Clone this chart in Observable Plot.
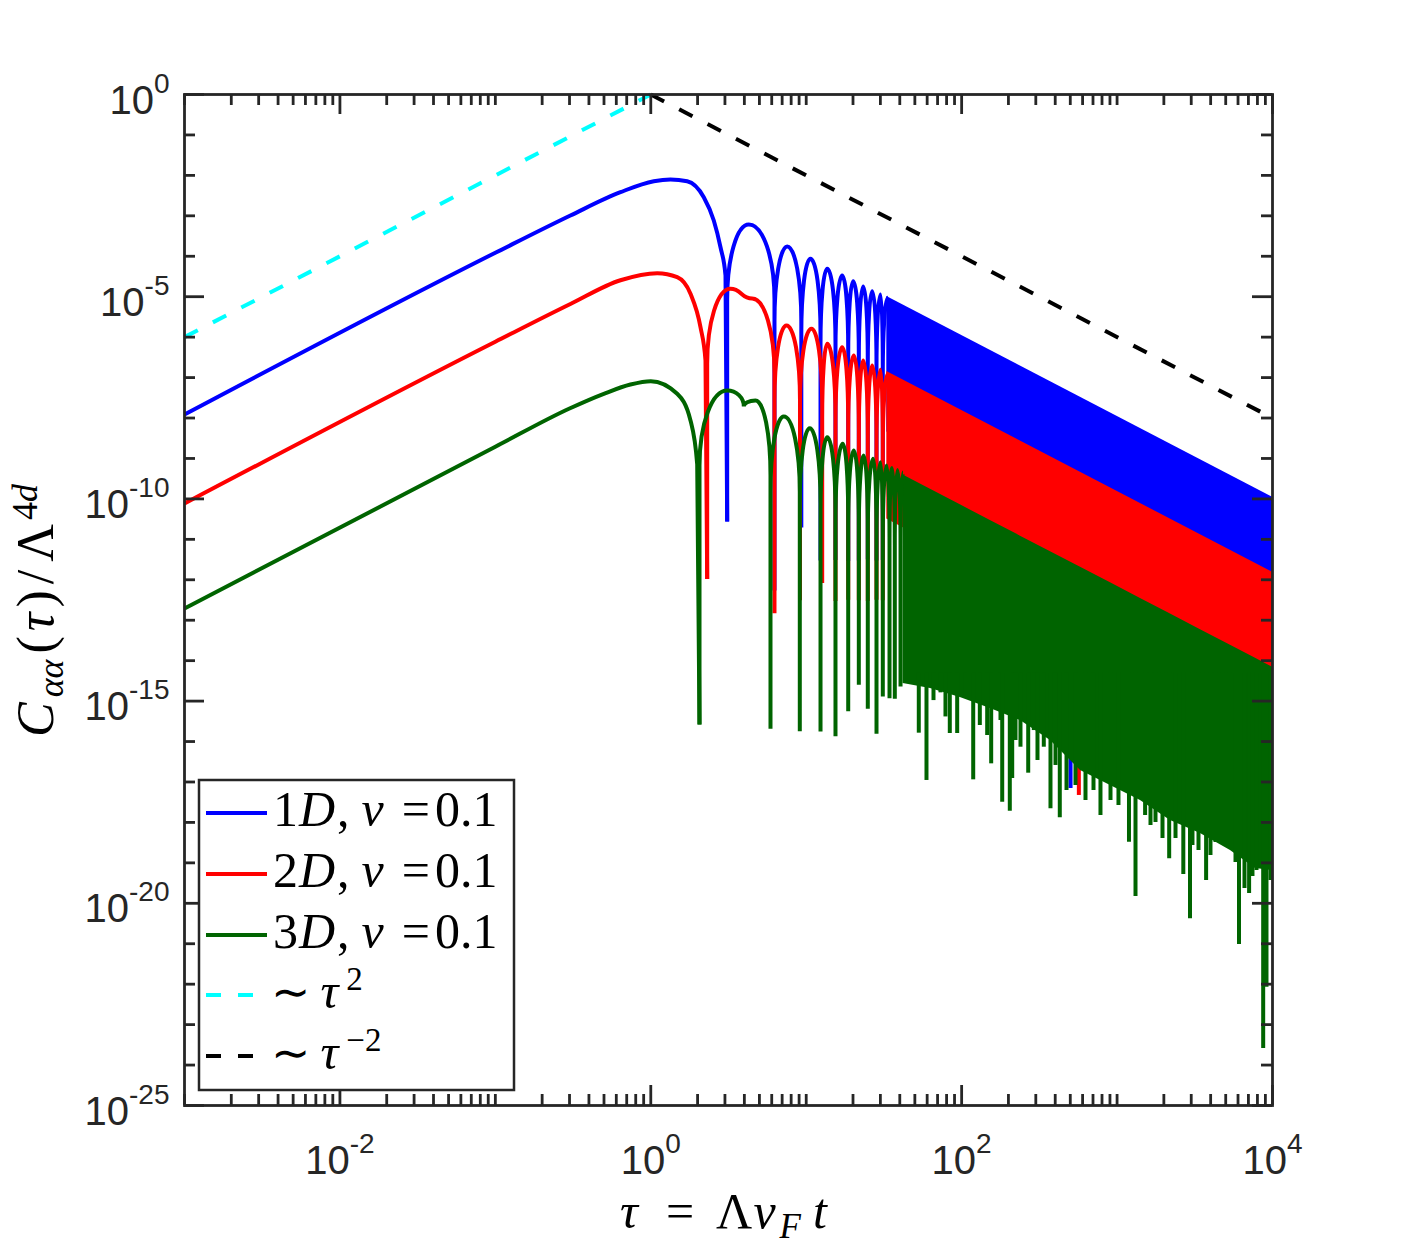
<!DOCTYPE html>
<html><head><meta charset="utf-8">
<script src="https://cdn.jsdelivr.net/npm/d3@7"></script>
<script src="https://cdn.jsdelivr.net/npm/@observablehq/plot@0.6"></script>
<style>body{margin:0;background:#fff}</style>
</head><body><div id="chart"></div>
<script>
// ---------- data ----------
const xTickLabels = [1e-2, 1, 1e2, 1e4];
const yTickLabels = [1, 1e-5, 1e-10, 1e-15, 1e-20, 1e-25];

// smooth early hump of each curve  [tau, C]
const blueHump = [[0.001,1.22e-8],[0.1,1.22e-4],[0.304,1.02e-3],[0.638,3.84e-3],[1.045,7.18e-3],[1.339,7.91e-3],[1.715,7.18e-3],[2.193,2.88e-3],[2.543,7.66e-4],[2.809,1.67e-4],[3.025,3.34e-5],[3.101,2.76e-11]];
const redHump = [[0.001,7.7e-11],[0.1,7.7e-7],[0.304,6.6e-6],[0.638,2.55e-5],[1.1,3.81e-5],[1.479,3.03e-5],[1.801,1.18e-5],[2.088,1.76e-6],[2.249,2.64e-7],[2.306,1.05e-12]];
const greenHump = [[0.001,1.95e-13],[0.1,1.95e-9],[0.3,1.72e-8],[0.4985,3.97e-8],[0.74,6.75e-8],[1.0,8.14e-8],[1.479,3.97e-8],[1.801,8.69e-9],[1.989,7.18e-10],[2.058,2.64e-16]];

// individual oscillations: alternating dips and peaks  [tau, C]
const blueArches = [[3.101,2.76e-11],[4.272,6.1e-4],[6.25,5.4e-13],[7.546,1.74e-4],[9.3,1.96e-11],[10.65,8.65e-5],[12.36,3.0e-12],[13.65,4.9e-5],[15.43,3.1e-12],[17.04,3.34e-5],[18.63,2.9e-12],[20.06,2.42e-5],[21.8,3.0e-12],[23.26,1.79e-5],[24.9,3.2e-12],[26.58,1.37e-5],[28.33,3.0e-12],[30.06,1.13e-5],[31.1,3.1e-12],[33.49,9.4e-6]];
const redArches = [[2.306,1.05e-12],[3.257,1.57e-5],[4.492,9.0e-6],[6.25,1.49e-13],[7.468,1.94e-6],[9.12,3.1e-13],[10.81,1.61e-6],[12.67,8.3e-13],[13.65,6.84e-7],[15.43,3.0e-13],[17.04,5.64e-7],[18.63,3.2e-13],[20.24,3.52e-7],[21.8,3.1e-13],[23.26,2.64e-7],[24.9,3.0e-13],[26.58,1.99e-7],[28.33,3.2e-13],[30.06,1.56e-7],[31.1,3.1e-13],[33.49,1.24e-7]];
const greenArches = [[2.058,2.64e-16],[3.101,4.8e-8],[3.967,1.93e-8],[4.718,2.71e-8],[5.891,2.06e-16],[7.175,1.09e-8],[9.093,1.8e-16],[10.54,5.6e-9],[12.36,1.77e-16],[13.65,3.36e-9],[15.43,1.36e-16],[17.19,2.31e-9],[18.63,5.6e-16],[20.24,1.57e-9],[21.8,2.53e-15],[23.47,1.18e-9],[24.9,6.45e-16],[26.98,9.8e-10],[28.33,1.55e-16],[30.06,8.1e-10],[31.1,1.3e-15],[32.86,6.7e-10],[34.35,1.18e-15],[35.64,5.81e-10],[37.15,1.14e-15],[38.67,5.19e-10],[40.44,2.3e-15],[41.95,4.5e-10]];

// dense oscillation bands: [tau, upper envelope, lower edge]
const blueBand = [[33,1.01e-5,4.5e-9],[1e4,1.1e-10,5e-14]];
const redBand = [[33,1.41e-7,3.2e-11],[1e4,1.54e-12,2.5e-16]];
const greenBand = [[42,3.91e-10,2.72e-15],[63,1.73e-10,2.05e-15],[98,7.13e-11,1.23e-15],[153,2.93e-11,6.56e-16],[239,1.2e-11,3.31e-16],[373,4.95e-12,1.06e-16],[582,2.04e-12,1.92e-17],[907,8.4e-13,8.2e-18],[1414,3.44e-13,3.48e-18],[2206,1.42e-13,1.11e-18],[3440,5.82e-14,5.32e-19],[5364,2.39e-14,2.02e-19],[7772,1.14e-14,7.26e-20],[1e4,6.89e-15,6.47e-20]];

// deep minima poking out below the bands: [tau, minimum]
const greenSpikes = [[53,1.61e-16],[59.4,1.09e-17],[65.9,1.03e-15],[73.1,1.6e-15],[78.7,4.06e-16],[83.9,1.58e-16],[93.6,1.58e-16],[105.9,1.18e-15],[118.7,1.13e-17],[130.9,2.49e-16],[146,1.41e-16],[154.9,2.81e-17],[177.8,3.31e-16],[182.4,3.16e-18],[204.1,1.9e-18],[211.5,1.22e-17],[222.1,1.06e-16],[239.1,7.24e-17],[268.1,1.65e-17],[291.2,1.87e-16],[307.6,3.4e-17],[337.7,7.24e-17],[372.9,2.17e-18],[401.7,2.56e-17],[428,1.3e-18],[472.8,6.15e-18],[540.1,8.18e-18],[626.4,3.48e-18],[705.2,6.15e-18],[782,1.48e-18],[907.3,3.48e-18],[1021,2.62e-18],[1193,3.24e-19],[1314,1.47e-20],[1515,1.48e-18],[1641,8.39e-19],[1767,9.95e-19],[1960,4.0e-19],[2164,1.26e-19],[2377,4.0e-19],[2668,5.15e-20],[2946,4.14e-21],[3056,2.69e-19],[3341,2.02e-19],[3740,3.66e-20],[3990,1.52e-19],[4298,3.18e-19],[4768,3.01e-19],[5289,2.84e-19],[5781,1.02e-19],[6088,9.57e-22],[6604,2.32e-20],[7071,1.75e-20],[7433,4.6e-20],[7889,6.47e-20],[8711,2.56e-24],[9148,8.4e-23],[9707,3.66e-20]];
const blueSpikes = [[502,6.9e-18]];
const redSpikes = [[567.7,4.64e-18]];
const spikeTop = 5e-15; // spikes hang from inside the green band

// power-law guides
const tau2Line = [[1e-3,1e-6],[1,1]];
const tauM2Line = [[1,1],[1e4,1e-8]];

// ---------- style ----------
const BLUE="#0000ff", RED="#ff0000", GREEN="#006400", CYAN="#00ffff", BLACK="#000000", AXIS="#262626";
const W=1406, H=1250, ML=184, MR=134, MT=94, MB=145;
const PW=W-ML-MR, PH=H-MT-MB;

// curve: smooth arches whose minima fall as vertical cusps
function archCurve(context){
  let pts; const A=75, K=0.5523;
  return {
    areaStart(){}, areaEnd(){},
    lineStart(){pts=[];},
    point(x,y){pts.push([+x,+y]);},
    lineEnd(){
      const n=pts.length; if(!n) return;
      const dip=pts.map((p,i)=>{const a=pts[i-1],b=pts[i+1];return (!a||p[1]>a[1])&&(!b||p[1]>b[1]);});
      context.moveTo(pts[0][0],pts[0][1]);
      for(let i=1;i<n;i++){
        const [x0,y0]=pts[i-1],[x1,y1]=pts[i]; const w=x1-x0;
        if(dip[i-1]&&!dip[i]){
          const a=Math.min(A,y0-y1);
          context.lineTo(x0,y1+a);
          context.bezierCurveTo(x0,y1+a*(1-K),x1-w*K,y1,x1,y1);
        } else if(!dip[i-1]&&dip[i]){
          const a=Math.min(A,y1-y0);
          context.bezierCurveTo(x0+w*K,y0,x1,y0+a*(1-K),x1,y0+a);
          context.lineTo(x1,y1);
        } else if(!dip[i-1]&&!dip[i]){
          const xm=(x0+x1)/2;
          context.bezierCurveTo(xm,y0,xm,y1,x1,y1);
        } else context.lineTo(x1,y1);
      }
    }
  };
}

const xMinor=[]; for(let k=-3;k<=3;k++) for(let m=1;m<=9;m++){const v=m*Math.pow(10,k); if(m===1&&xTickLabels.includes(v)) continue; xMinor.push(v);}
const yMinor=[]; for(let k=1;k<=24;k++) if(k%5!==0) yMinor.push(Math.pow(10,-k));

const series=[
  {hump:blueHump, arches:blueArches, band:blueBand, spikes:blueSpikes, color:BLUE},
  {hump:redHump, arches:redArches, band:redBand, spikes:redSpikes, color:RED},
  {hump:greenHump, arches:greenArches, band:greenBand, spikes:greenSpikes, color:GREEN}
];
const marks=[];
for(const s of series){
  marks.push(Plot.areaY(s.band,{x:d=>d[0],y1:d=>d[2],y2:d=>d[1],fill:s.color}));
  marks.push(Plot.ruleX(s.spikes,{x:d=>d[0],y1:d=>d[1],y2:()=>spikeTop,stroke:s.color,strokeWidth:4,strokeLinecap:"butt"}));
  marks.push(Plot.line(s.hump,{x:d=>d[0],y:d=>d[1],stroke:s.color,strokeWidth:4,curve:"monotone-x",strokeLinejoin:"miter",strokeLinecap:"butt"}));
  marks.push(Plot.line(s.arches,{x:d=>d[0],y:d=>d[1],stroke:s.color,strokeWidth:4,curve:archCurve,strokeLinejoin:"miter",strokeLinecap:"butt"}));
}
marks.push(Plot.line(tau2Line,{x:d=>d[0],y:d=>d[1],stroke:CYAN,strokeWidth:4,strokeDasharray:"15,17",strokeLinecap:"butt"}));
marks.push(Plot.line(tauM2Line,{x:d=>d[0],y:d=>d[1],stroke:BLACK,strokeWidth:4,strokeDasharray:"15,17",strokeLinecap:"butt"}));
// frame and inward ticks on all four sides
marks.push(Plot.frame({stroke:AXIS,strokeWidth:2.8}));
const tk={stroke:AXIS,strokeWidth:2.8};
marks.push(Plot.ruleX(xTickLabels,{x:d=>d,insetTop:PH-20,...tk}));
marks.push(Plot.ruleX(xTickLabels,{x:d=>d,insetBottom:PH-20,...tk}));
marks.push(Plot.ruleX(xMinor,{x:d=>d,insetTop:PH-11,...tk}));
marks.push(Plot.ruleX(xMinor,{x:d=>d,insetBottom:PH-11,...tk}));
marks.push(Plot.ruleY(yTickLabels,{y:d=>d,insetRight:PW-20,...tk}));
marks.push(Plot.ruleY(yTickLabels,{y:d=>d,insetLeft:PW-20,...tk}));
marks.push(Plot.ruleY(yMinor,{y:d=>d,insetRight:PW-11,...tk}));
marks.push(Plot.ruleY(yMinor,{y:d=>d,insetLeft:PW-11,...tk}));
// tick labels  (10|exp -> 10 with superscript)
marks.push(Plot.text(xTickLabels,{x:d=>d,text:d=>"10|"+Math.round(Math.log10(d)),frameAnchor:"bottom",dy:68,lineAnchor:"bottom",fontSize:40,fill:AXIS,fontFamily:"Liberation Sans"}));
marks.push(Plot.text(yTickLabels,{y:d=>d,text:d=>"10|"+Math.round(Math.log10(d)),frameAnchor:"left",textAnchor:"end",dx:-15,dy:19,lineAnchor:"bottom",fontSize:40,fill:AXIS,fontFamily:"Liberation Sans"}));

const svg=Plot.plot({
  width:W,height:H,marginLeft:ML,marginRight:MR,marginTop:MT,marginBottom:MB,
  x:{type:"log",domain:[1e-3,1e4],axis:null},
  y:{type:"log",domain:[1e-25,1],axis:null},
  style:{background:"#fff"},
  marks
});
document.getElementById("chart").appendChild(svg);

const S=d3.select(svg);
S.selectAll("text").each(function(){
  const t=this.textContent;
  if(t.includes("|")){const [b,e]=t.split("|"); this.textContent=b; d3.select(this).append("tspan").attr("dy",-21).attr("font-size",28).text(e);}
});

// rich text helper: one <text>, pieces {t, dx, dy, it, size, fam}
function rich(parent, x0, y0, size, pieces){
  const t=parent.append("text").attr("x",x0).attr("y",y0).attr("text-anchor","start").attr("font-family","Liberation Serif").attr("font-size",size).attr("fill","#000");
  for(const p of pieces){
    const ts=t.append("tspan").text(p.t);
    if(p.dx) ts.attr("dx",p.dx);
    if(p.dy) ts.attr("dy",p.dy);
    if(p.it) ts.attr("font-style","italic");
    if(p.size) ts.attr("font-size",p.size);
    if(p.fam) ts.attr("font-family",p.fam);
  }
  return t;
}
// x axis title: tau = Lambda v_F t
rich(S, 620, 1228, 50, [{t:"τ",it:1},{t:"=",dx:28},{t:"Λ",dx:22},{t:"v",dx:1,it:1},{t:"F",dx:4,dy:10,it:1,size:35},{t:"t",dx:12,dy:-10,it:1}]);
// y axis title: C_aa(tau)/Lambda^{4d}
const yt=S.append("g").attr("transform","translate(53,735) rotate(-90)");
rich(yt, -2, 0, 52, [{t:"C",it:1},{t:"αα",dx:5,dy:10,it:1,size:36},{t:"(",dx:6,dy:-10},{t:"τ",dx:5,it:1},{t:")",dx:5},{t:"/",dx:6},{t:"Λ",dx:8},{t:"4",dx:4,dy:-16,size:36},{t:"d",it:1,size:36}]);

// legend
const L=S.append("g");
L.append("rect").attr("x",199).attr("y",780).attr("width",315).attr("height",310).attr("fill","#fff").attr("stroke",AXIS).attr("stroke-width",2.5);
const legendRows=[
  {y:813,color:BLUE,dash:null,dim:"1"},
  {y:874,color:RED,dash:null,dim:"2"},
  {y:935,color:GREEN,dash:null,dim:"3"},
  {y:995,color:CYAN,dash:"15,17",pow:"2"},
  {y:1056,color:BLACK,dash:"15,17",pow:"−2"}
];
for(const r of legendRows){
  const ln=L.append("line").attr("x1",206).attr("x2",267).attr("y1",r.y).attr("y2",r.y).attr("stroke",r.color).attr("stroke-width",4);
  if(r.dash) ln.attr("stroke-dasharray",r.dash);
  if(r.dim) rich(L, 273, r.y+13, 50, [{t:r.dim},{t:"D",dx:1,it:1},{t:",",dx:2},{t:"ν",dx:12,it:1},{t:"=",dx:18},{t:"0.1",dx:5}]);
  else rich(L, 271, r.y+13, 50, [{t:"∼",fam:"DejaVu Sans",size:47},{t:"τ",dx:10,it:1},{t:r.pow,dx:8,dy:-18,size:33}]);
}
</script></body></html>
